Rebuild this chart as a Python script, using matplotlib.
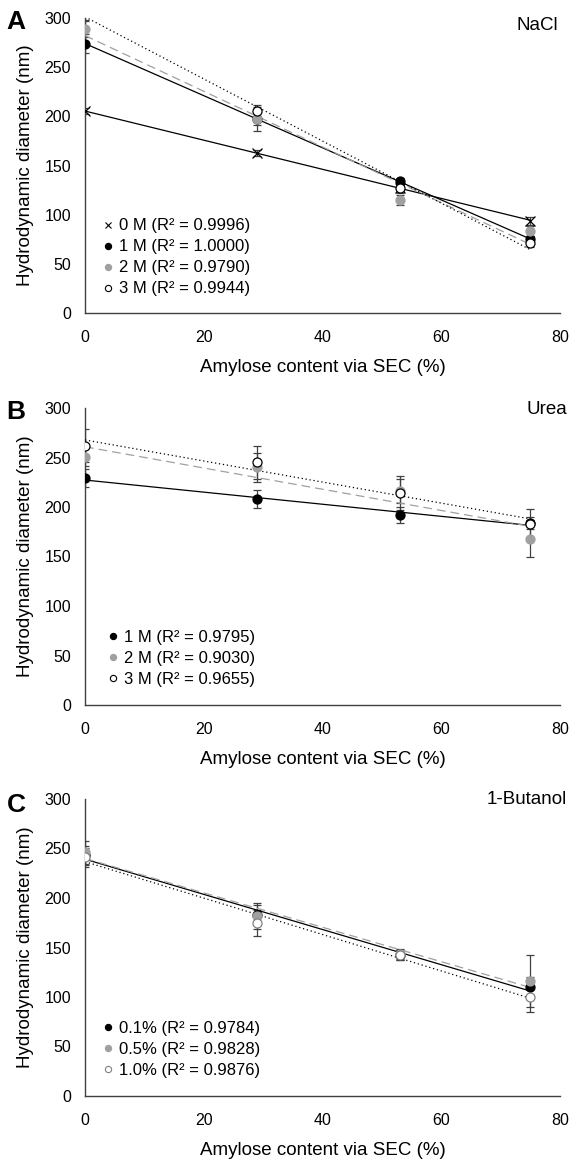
import numpy as np
import matplotlib
matplotlib.use("Agg")
import matplotlib.pyplot as plt
from matplotlib.lines import Line2D

plt.rcParams["font.family"] = ["Liberation Sans", "DejaVu Sans"]

# -- data
amylose = [0, 29, 53, 75]

nacl_labels = ["0 M (R\u00b2 = 0.9996)", "1 M (R\u00b2 = 1.0000)",
               "2 M (R\u00b2 = 0.9790)", "3 M (R\u00b2 = 0.9944)"]
nacl_vals = [[205, 163, 127, 94],
             [274, 197, 134, 75],
             [289, 197, 115, 83],
             [306, 205, 127, 71]]
nacl_err = [[3, 3, 3, 4],
            [10, 6, 3, 3],
            [8, 12, 5, 5],
            [8, 7, 5, 4]]

urea_labels = ["1 M (R\u00b2 = 0.9795)", "2 M (R\u00b2 = 0.9030)",
               "3 M (R\u00b2 = 0.9655)"]
urea_vals = [[229, 208, 192, 184],
             [251, 240, 216, 168],
             [262, 245, 214, 183]]
urea_err = [[9, 9, 8, 6],
            [10, 15, 12, 19],
            [17, 17, 17, 15]]

but_labels = ["0.1% (R\u00b2 = 0.9784)", "0.5% (R\u00b2 = 0.9828)",
              "1.0% (R\u00b2 = 0.9876)"]
but_vals = [[243, 183, 142, 110],
            [246, 182, 143, 116],
            [241, 175, 142, 100]]
but_err = [[10, 10, 5, 10],
            [12, 13, 5, 26],
            [10, 13, 5, 15]]

GRAY = "#a0a0a0"

# -- styles: (marker, face, edge, line color, line style)
sty_x = dict(marker="x", mfc="k", mec="k", lc="k", ls="-")
sty_k = dict(marker="o", mfc="k", mec="k", lc="k", ls="-")
sty_g = dict(marker="o", mfc=GRAY, mec=GRAY, lc=GRAY, ls=(0, (7, 4)))
sty_w = dict(marker="o", mfc="w", mec="k", lc="k", ls=(0, (1, 2.2)))
sty_w2 = dict(marker="o", mfc="w", mec="#808080", lc="k", ls=(0, (1, 2.2)))

W, H = 571, 1160
fig = plt.figure(figsize=(W / 100, H / 100), dpi=100)


def px_axes(top, bottom, left=85, right=560):
    return fig.add_axes([left / W, 1 - bottom / H,
                         (right - left) / W, (bottom - top) / H])


def panel(ax, vals, errs, labels, styles, leg_anchor):
    x = np.array(amylose, dtype=float)
    for v, e, s in zip(vals, errs, styles):
        v = np.array(v, dtype=float)
        ax.errorbar(x, v, yerr=e, fmt="none", ecolor="#404040",
                    elinewidth=0.9, capsize=3, capthick=0.9, zorder=2)
        m, b = np.polyfit(x, v, 1)
        xx = np.array([x[0], x[-1]])
        ax.plot(xx, m * xx + b, color=s["lc"], ls=s["ls"], lw=0.9, zorder=3)
    for v, s in zip(vals, styles):
        ax.plot(amylose, v, ls="none", marker=s["marker"], ms=6.5,
                mfc=s["mfc"], mec=s["mec"], mew=0.9, zorder=4)
    handles = [Line2D([], [], ls="none", marker=s["marker"], ms=4.5,
                      mfc=s["mfc"], mec=s["mec"], mew=0.8) for s in styles]
    ax.legend(handles, labels, loc="lower left", bbox_to_anchor=leg_anchor,
              frameon=False, fontsize=12, handlelength=0.6,
              handletextpad=0.36, labelspacing=0.36, borderpad=0,
              borderaxespad=0)
    ax.set_xlim(0, 80)
    ax.set_ylim(0, 300)
    ax.set_xticks([0, 20, 40, 60, 80])
    ax.set_yticks([0, 50, 100, 150, 200, 250, 300])
    ax.tick_params(axis="both", length=0, labelsize=11.5)
    ax.tick_params(axis="x", pad=12)
    ax.tick_params(axis="y", pad=10)
    for sp in ["top", "right"]:
        ax.spines[sp].set_visible(False)
    for sp in ["left", "bottom"]:
        ax.spines[sp].set_color("#404040")
        ax.spines[sp].set_linewidth(1.0)
    ax.set_xlabel("Amylose content via SEC (%)", fontsize=13.5)
    ax.set_ylabel("Hydrodynamic diameter (nm)", fontsize=13.5)
    ax.xaxis.set_label_coords(0.5, -0.155)
    ax.yaxis.set_label_coords(-0.108, 0.5)


axA = px_axes(18, 313)
panel(axA, nacl_vals, nacl_err, nacl_labels,
      [sty_x, sty_k, sty_g, sty_w], (0.038, 0.056))
axB = px_axes(408, 705)
panel(axB, urea_vals, urea_err, urea_labels,
      [sty_k, sty_g, sty_w], (0.048, 0.06))
axC = px_axes(799, 1096)
panel(axC, but_vals, but_err, but_labels,
      [sty_k, sty_g, sty_w2], (0.038, 0.06))

# -- panel letters and titles
for lab, yy in [("A", 22), ("B", 412), ("C", 805)]:
    fig.text(16 / W, 1 - yy / H, lab, fontsize=19, fontweight="bold",
             ha="center", va="center")
for lab, xr, yy in [("NaCl", 558, 25), ("Urea", 567, 409),
                    ("1-Butanol", 567, 799)]:
    fig.text(xr / W, 1 - yy / H, lab, fontsize=13.5, ha="right", va="center")

fig.savefig("out.png", dpi=100)
